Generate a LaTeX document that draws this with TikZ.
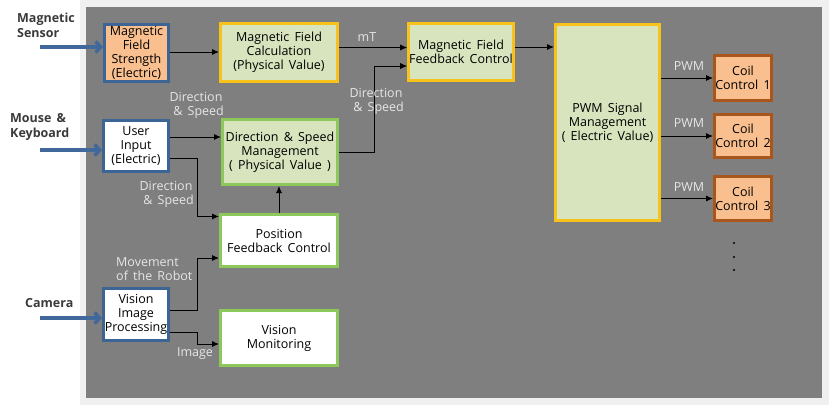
\documentclass[tikz,border=0pt]{standalone}
\usepackage{fontspec}
\setmainfont{Open Sans}[WordSpace=1.6]
\usetikzlibrary{arrows.meta,shadows}
\definecolor{panel}{HTML}{7F7F7F}
\definecolor{outerpanel}{HTML}{F0F0F0}
\definecolor{bluebd}{HTML}{3C6596}
\definecolor{goldbd}{HTML}{F7C21A}
\definecolor{greenbd}{HTML}{8DC85A}
\definecolor{brownbd}{HTML}{A8561C}
\definecolor{lgreen}{HTML}{D7E4BD}
\definecolor{orangefill}{HTML}{F9BF8F}
\definecolor{lbltext}{HTML}{E6E6E6}
\definecolor{inarrow}{HTML}{41689A}
\definecolor{lefttext}{HTML}{3A3A3A}
\tikzset{
  box/.style={draw, line width=3pt, align=center, inner sep=0.5pt,
    font=\fontsize{12.5}{14}\selectfont, text=black,
    drop shadow={shadow xshift=2pt, shadow yshift=-2pt, opacity=0.4}},
  bluebox/.style={box, draw=bluebd},
  goldbox/.style={box, draw=goldbd, fill=lgreen},
  greenbox/.style={box, draw=greenbd},
  coilbox/.style={box, draw=brownbd, fill=orangefill},
  arr/.style={-{Latex[length=7pt,width=6pt]}, line width=0.9pt, black},
  inarr/.style={inarrow, line width=3.5pt, -{Straight Barb[length=5pt,width=11pt]}},
  lbl/.style={text=lbltext, align=center, font=\fontsize{12.5}{14}\selectfont, inner sep=0pt},
  leftlbl/.style={text=lefttext, font=\bfseries\fontsize{12.5}{15.5}\selectfont, align=left, inner sep=0pt}
}
\begin{document}
\begin{tikzpicture}[x=1pt,y=-1pt]
\useasboundingbox (0,0) rectangle (829,406);
\fill[outerpanel] (80,0) rectangle (829,405);
\fill[panel] (86,7) rectangle (822,398);

% boxes
\node[bluebox, fill=orangefill, minimum width=64pt, minimum height=57pt] (mfs) at (136.5,53) {Magnetic\\Field\\Strength\\(Electric)};
\node[goldbox, minimum width=117pt, minimum height=58pt] (mfc) at (279,52.5) {Magnetic Field\\Calculation\\(Physical Value)};
\node[bluebox, fill=white, minimum width=65pt, minimum height=51pt] (ui) at (136,146) {User\\Input\\(Electric)};
\node[greenbox, fill=lgreen, minimum width=115pt, minimum height=65pt] (dsm) at (280,152) {Direction \& Speed\\Management\\( Physical Value )};
\node[greenbox, fill=white, minimum width=117pt, minimum height=52pt] (pfc) at (279,240.5) {Position\\Feedback Control};
\node[bluebox, fill=white, minimum width=65pt, minimum height=52pt] (vip) at (136,314.5) {Vision\\Image\\Processing};
\node[greenbox, fill=white, minimum width=117pt, minimum height=55pt] (vm) at (279,338) {Vision\\Monitoring};
\node[goldbox, minimum width=103pt, minimum height=57pt] (mffb) at (461,52) {Magnetic Field\\Feedback Control};
\node[goldbox, minimum width=104pt, minimum height=196pt] (pwm) at (607.5,122.5) {PWM Signal\\Management\\( Electric Value)};
\node[coilbox, minimum width=57pt, minimum height=45pt] (c1) at (743,78) {Coil\\Control 1};
\node[coilbox, minimum width=57pt, minimum height=43pt] (c2) at (743,136) {Coil\\Control 2};
\node[coilbox, minimum width=57pt, minimum height=44pt] (c3) at (743,198.5) {Coil\\Control 3};

% dots
\fill[black] (734,243) circle (1.1);
\fill[black] (734,257) circle (1.1);
\fill[black] (734,270) circle (1.1);

% connectors
\draw[arr] ([yshift=1pt]mfs.east) -- ([yshift=1pt]mfs.east -| mfc.west);
\draw[arr] ([yshift=5pt]mfc.east) -- ([yshift=5pt]mfc.east -| mffb.west);
\draw[arr] (dsm.east) -- ++(35,0) |- ([yshift=-14pt]mffb.west);
\coordinate (m1) at ([yshift=5pt]mffb.east);
\draw[arr] (m1) -- (m1 -| pwm.west);
\draw[arr] (pwm.east |- c1.west) -- (c1.west);
\draw[arr] (pwm.east |- c2.west) -- (c2.west);
\draw[arr] (pwm.east |- c3.west) -- (c3.west);
\draw[arr] ([yshift=9pt]ui.east) -- ([yshift=9pt]ui.east -| dsm.west);
\draw[arr] ([yshift=-12pt]ui.east) -- ++(27,0) |- ([yshift=24pt]pfc.west);
\draw[arr] (pfc.north) -- (pfc.north |- dsm.south);
\draw[arr] ([yshift=4.5pt]vip.east) -- ++(27,0) |- ([yshift=-17.5pt]pfc.west);
\draw[arr] ([yshift=-17.5pt]vip.east) -- ++(27,0) |- ([yshift=-6pt]vm.west);

% labels
\node[lbl] (lmt) at (367,37) {mT};
\node[lbl] (lds1) at (196,105) {Direction\\\ \& Speed};
\node[lbl] (lds2) at (166,194) {Direction\\\ \& Speed};
\node[lbl] (lds3) at (376,101.5) {Direction\\\ \& Speed};
\node[lbl, align=left, anchor=west] (lmov) at (116,269.5) {Movement\\of the Robot};
\node[lbl] (limg) at (195,354) {Image};
\node[lbl] (lp1) at (689,66) {PWM};
\node[lbl] (lp2) at (689,123) {PWM};
\node[lbl] (lp3) at (689,187) {PWM};

% inputs
\node[leftlbl, anchor=west] (tms) at (17,25.5) {Magnetic\\Sensor};
\node[leftlbl, anchor=west] (tmk) at (10,127) {Mouse \&\\Keyboard};
\node[leftlbl, anchor=west] (tcam) at (25,303) {Camera};
\coordinate (ims) at (40,47);
\coordinate (imk) at (40,150);
\coordinate (icam) at (40,318);
\draw[inarr] (ims) -- (ims -| mfs.west);
\draw[inarr] (imk) -- (imk -| ui.west);
\draw[inarr] (icam) -- (icam -| vip.west);
\end{tikzpicture}
\end{document}
